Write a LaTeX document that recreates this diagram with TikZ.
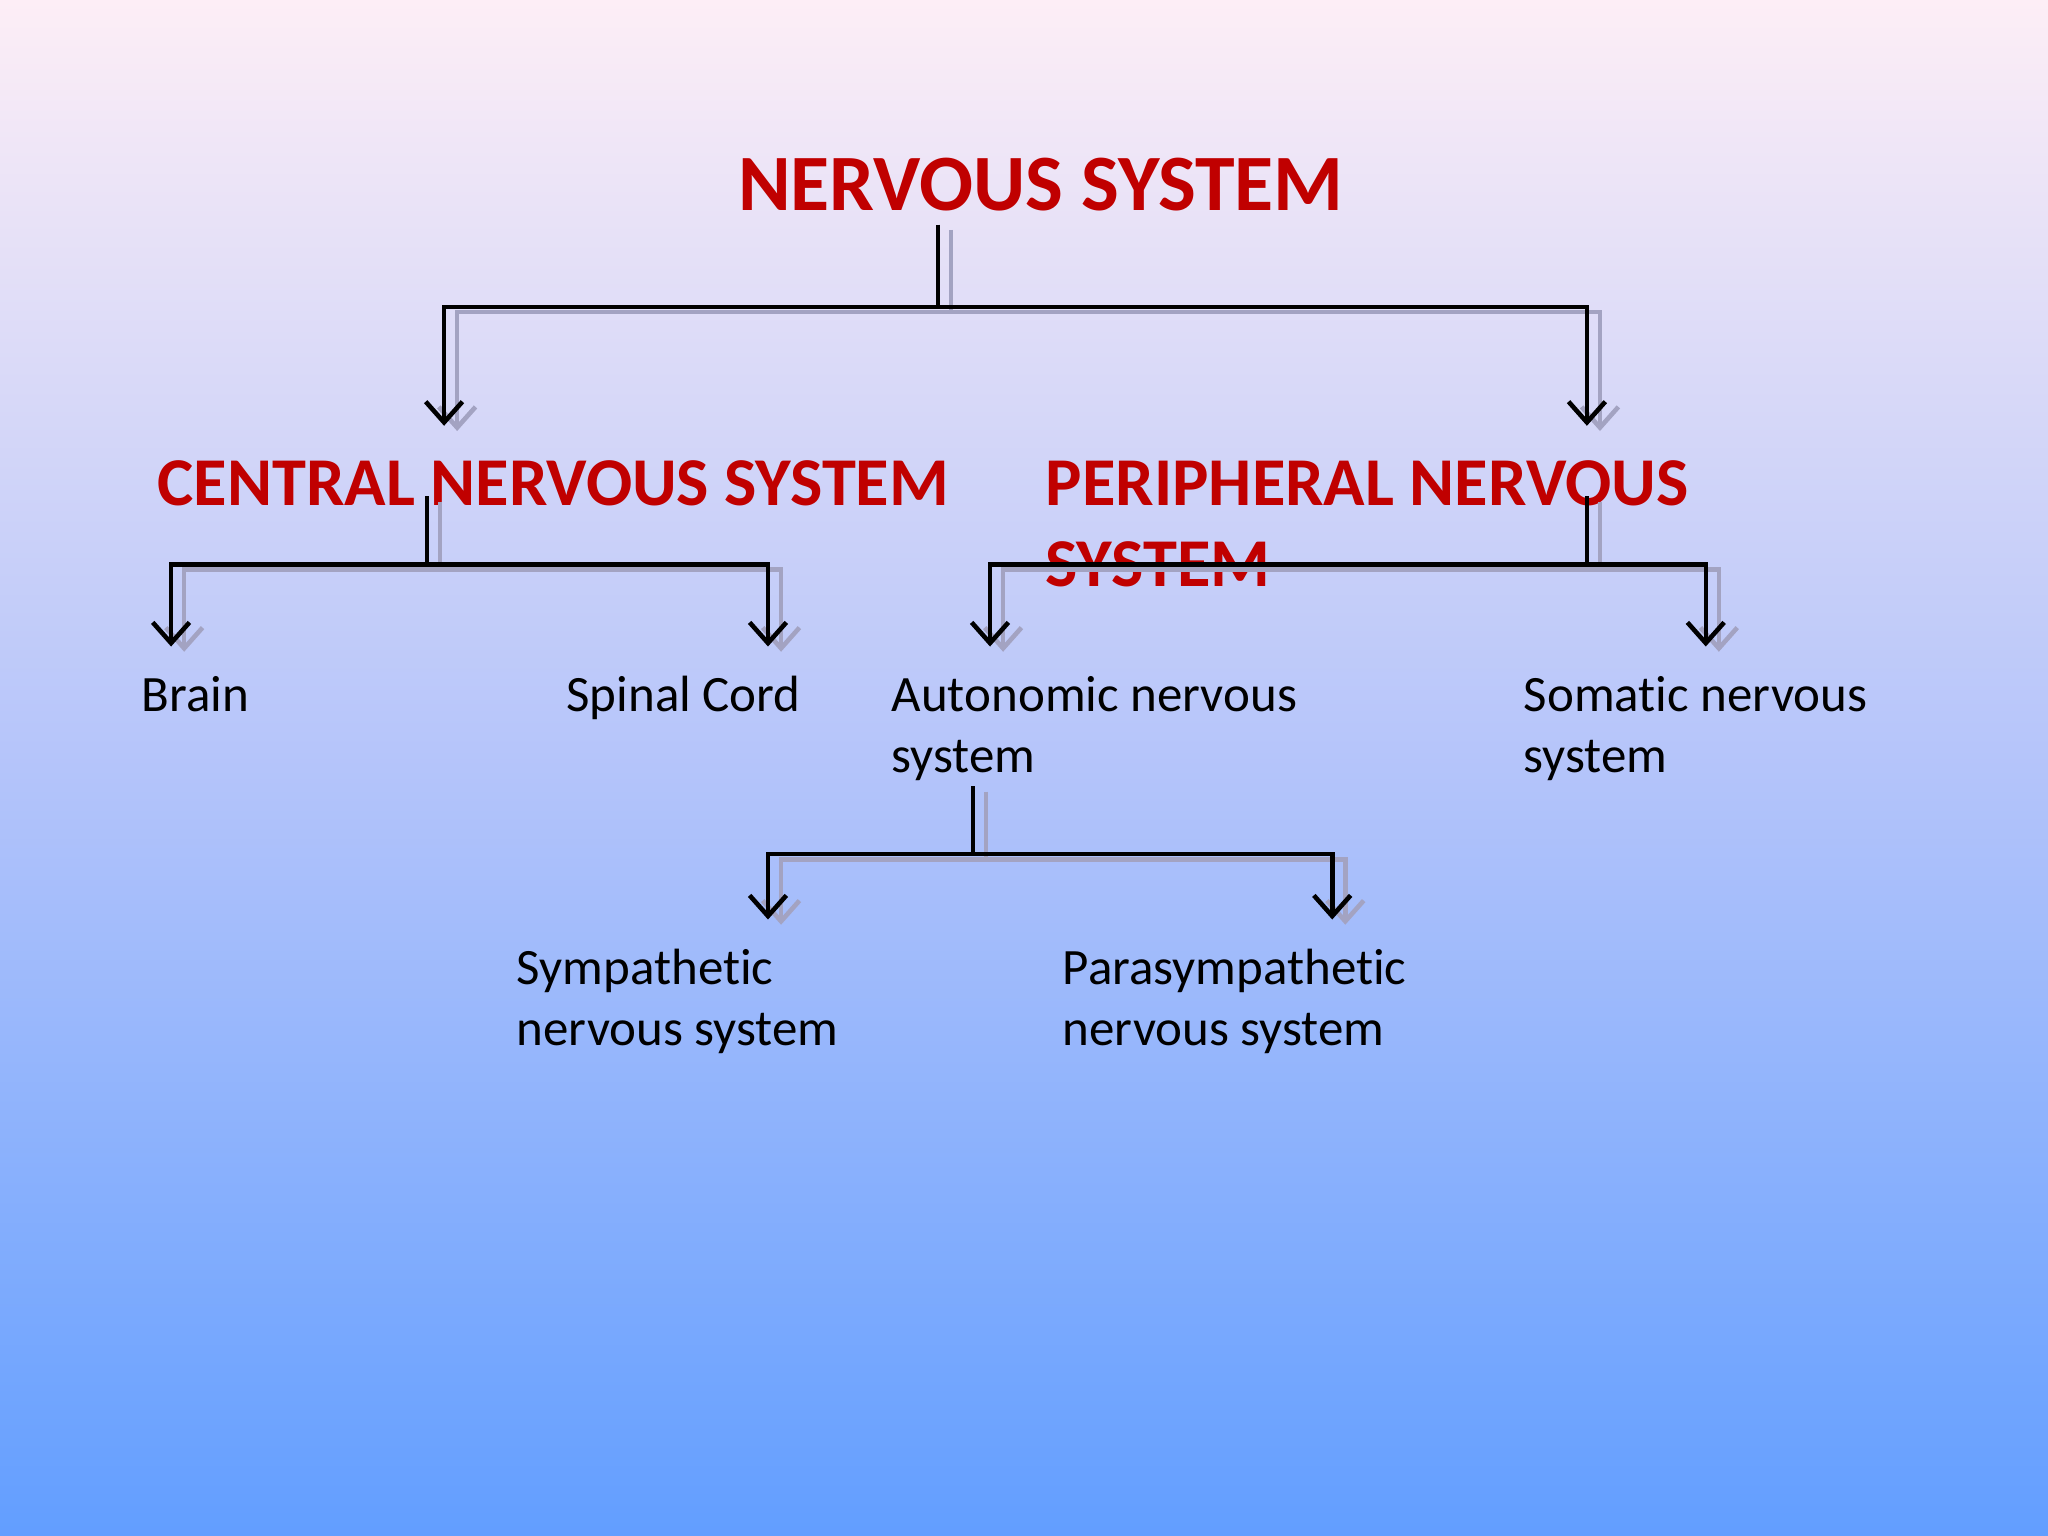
\documentclass[tikz,border=0pt]{standalone}
\usepackage{fontspec}
\setmainfont{Carlito}[Ligatures=NoCommon]
\usetikzlibrary{arrows.meta}
\definecolor{tred}{RGB}{192,0,0}
\definecolor{bgtop}{RGB}{253,238,246}
\definecolor{bgmid}{RGB}{180,196,250}
\definecolor{bgbot}{RGB}{98,158,255}
\begin{document}
\begin{tikzpicture}[x=0.01cm,y=-0.01cm,
  conn/.style={line width=1pt,black,arrows={-Straight Barb[length=4.5pt,width=8pt,line width=1pt]}},
  shad/.style={line width=1pt,gray!80!blue!60,arrows={-Straight Barb[length=4.5pt,width=8pt,line width=1pt]},transform canvas={xshift=0.1cm,yshift=-0.04cm}},
  head/.style={text=tred,font=\fontsize{17.4}{19}\selectfont\bfseries,inner sep=0},
  sub/.style={text=tred,font=\fontsize{14.9}{17.6}\selectfont\bfseries,inner sep=0,anchor=north west,align=left},
  lab/.style={font=\fontsize{11.1}{13.3}\selectfont,inner sep=0,anchor=north west,align=left}]
\shade[top color=bgtop,bottom color=bgbot,middle color=bgmid] (0,0) rectangle (1568,1176);
\useasboundingbox (0,0) rectangle (1568,1176);
\node[head] (ns) at (797,141) {NERVOUS SYSTEM};
\node[sub] (cns) at (120,352) {CENTRAL NERVOUS SYSTEM};
\node[sub] (pns) at (800,352) {PERIPHERAL NERVOUS\\SYSTEM};
\node[lab] (brain) at (108,517) {Brain};
\node[lab] (sc) at (433,517) {Spinal Cord};
\node[lab] (ans) at (682,517) {Autonomic nervous\\system};
\node[lab] (sns) at (1166,517) {Somatic nervous\\system};
\node[lab] (sym) at (395,726) {Sympathetic\\nervous system};
\node[lab] (para) at (813,726) {Parasympathetic\\nervous system};
\coordinate (a0) at (718,172); \coordinate (a1) at (718,235);
\coordinate (al) at (340,235); \coordinate (ar) at (1215,235);
\coordinate (alt) at (340,326); \coordinate (art) at (1215,326);
\coordinate (b0) at (327,380); \coordinate (b1) at (327,432);
\coordinate (bl) at (131,432); \coordinate (br) at (588,432);
\coordinate (blt) at (131,495); \coordinate (brt) at (588,495);
\coordinate (c0) at (1215,380); \coordinate (c1) at (1215,432);
\coordinate (cl) at (758,432); \coordinate (cr) at (1306,432);
\coordinate (clt) at (758,495); \coordinate (crt) at (1306,495);
\coordinate (d0) at (745,602); \coordinate (d1) at (745,654);
\coordinate (dl) at (588,654); \coordinate (dr) at (1020,654);
\coordinate (dlt) at (588,704); \coordinate (drt) at (1020,704);
\foreach \s in {shad,conn}{
  \draw[\s,-] (a0) -- (a1);
  \draw[\s] (a1) -- (al) -- (alt);
  \draw[\s] (a1) -- (ar) -- (art);
  \draw[\s,-] (b0) -- (b1);
  \draw[\s] (b1) -- (bl) -- (blt);
  \draw[\s] (b1) -- (br) -- (brt);
  \draw[\s,-] (c0) -- (c1);
  \draw[\s] (c1) -- (cl) -- (clt);
  \draw[\s] (c1) -- (cr) -- (crt);
  \draw[\s,-] (d0) -- (d1);
  \draw[\s] (d1) -- (dl) -- (dlt);
  \draw[\s] (d1) -- (dr) -- (drt);
}
\end{tikzpicture}
\end{document}
